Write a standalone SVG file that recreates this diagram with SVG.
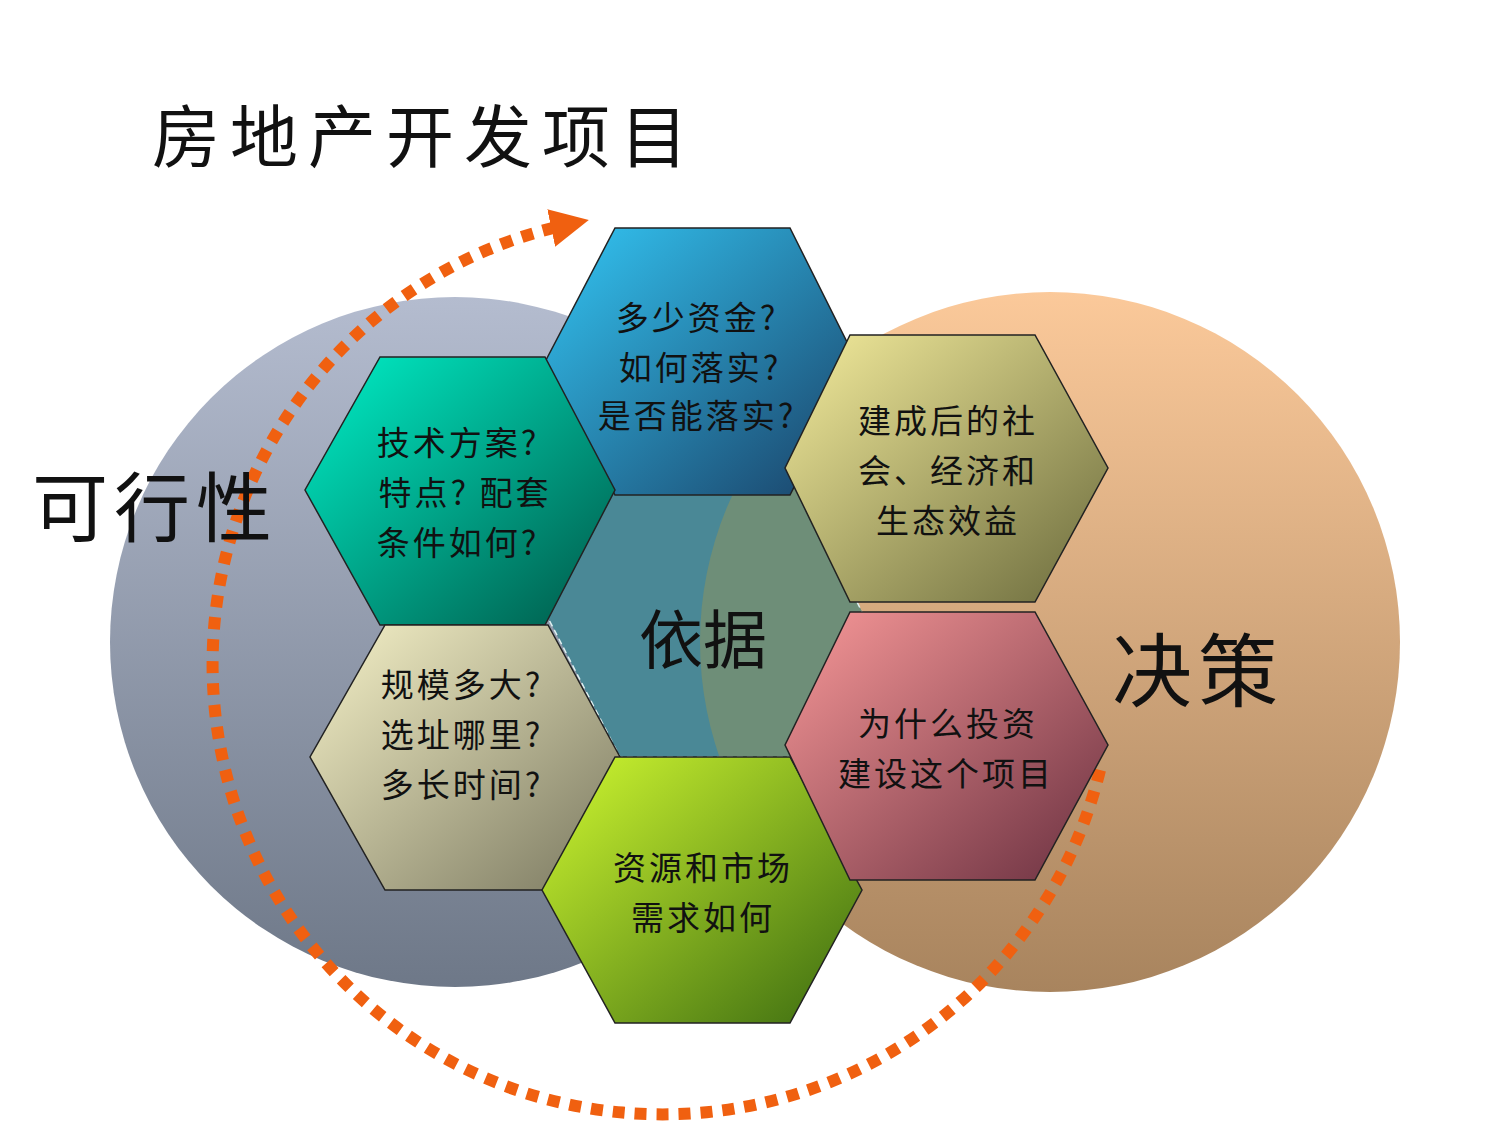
<svg xmlns="http://www.w3.org/2000/svg" width="1500" height="1125" viewBox="0 0 1500 1125">
<style>
text{font-family:"Noto Sans CJK SC","Noto Sans",sans-serif;fill:#111;text-anchor:middle}
.h{font-size:33px;letter-spacing:3px}
.hex{stroke:#222;stroke-width:1.5}
</style>
<defs>
<linearGradient id="gl" x1="0" y1="0" x2="0" y2="1"><stop offset="0" stop-color="#b4bccf"/><stop offset="1" stop-color="#6e7888"/></linearGradient>
<linearGradient id="gr" x1="0" y1="0" x2="0" y2="1"><stop offset="0" stop-color="#fbc99a"/><stop offset="1" stop-color="#a8845e"/></linearGradient>
<linearGradient id="g1" x1="0" y1="0" x2="1" y2="1"><stop offset="0" stop-color="#33c6f4"/><stop offset="1" stop-color="#1a4066"/></linearGradient>
<linearGradient id="g2" x1="0" y1="0" x2="1" y2="1"><stop offset="0" stop-color="#00f0c8"/><stop offset="1" stop-color="#005848"/></linearGradient>
<linearGradient id="g3" x1="0" y1="0" x2="1" y2="1"><stop offset="0" stop-color="#f6f2c8"/><stop offset="1" stop-color="#7a7860"/></linearGradient>
<linearGradient id="g4" x1="0" y1="0" x2="1" y2="1"><stop offset="0" stop-color="#d0f830"/><stop offset="1" stop-color="#3a6a10"/></linearGradient>
<linearGradient id="g5" x1="0" y1="0" x2="1" y2="1"><stop offset="0" stop-color="#f4ec9c"/><stop offset="1" stop-color="#6a6a3c"/></linearGradient>
<linearGradient id="g6" x1="0" y1="0" x2="1" y2="1"><stop offset="0" stop-color="#f89898"/><stop offset="1" stop-color="#6a3040"/></linearGradient>
<marker id="ar" viewBox="0 0 10 10" refX="5" refY="5" markerWidth="3.2" markerHeight="3.2" orient="auto"><path d="M0,0L10,5L0,10z" fill="#f06010"/></marker>
<clipPath id="cr"><circle cx="1050" cy="642" r="350"/></clipPath>
</defs>
<rect width="1500" height="1125" fill="#fff"/>
<text x="425" y="162" style="font-size:68px;letter-spacing:10px">房地产开发项目</text>
<g id="circles">
<circle cx="455" cy="642" r="345" fill="url(#gl)"/>
<circle cx="1050" cy="642" r="350" fill="url(#gr)"/>
</g>
<g id="connectors">
<path d="M1100,770 A450,450 0 1 1 570,224" fill="none" stroke="#f06010" stroke-width="12" stroke-dasharray="12 10" marker-end="url(#ar)"/>
</g>
<g id="center">
<polygon points="620,468 790,468 862,612 790,757 620,757 545,612" fill="#4a8896"/>
<polygon points="620,468 790,468 862,612 790,757 620,757 545,612" fill="#6e8e78" clip-path="url(#cr)"/>
<polygon points="620,468 790,468 862,612 790,757 620,757 545,612" fill="none" stroke="#e0f0f0" stroke-width="1.5" stroke-dasharray="6 4"/>
<text x="703" y="663" style="font-size:64px">依据</text>
</g>
<g id="hex-top"><polygon class="hex" points="615,228 790,228 857,362 790,495 615,495 545,362" fill="url(#g1)"/>
<text class="h" x="697" y="330">多少资金?</text><text class="h" x="700" y="380">如何落实?</text><text class="h" x="697" y="428">是否能落实?</text></g>
<g id="hex-ul"><polygon class="hex" points="380,357 545,357 615,490 545,625 380,625 305,490" fill="url(#g2)"/>
<text class="h" x="458" y="455">技术方案?</text><text class="h" x="465" y="505">特点? 配套</text><text class="h" x="458" y="555">条件如何?</text></g>
<g id="hex-ll"><polygon class="hex" points="385,625 548,625 620,757 548,890 385,890 310,757" fill="url(#g3)"/>
<text class="h" x="462" y="697">规模多大?</text><text class="h" x="462" y="747">选址哪里?</text><text class="h" x="462" y="797">多长时间?</text></g>
<g id="hex-bottom"><polygon class="hex" points="615,757 790,757 862,890 790,1023 615,1023 542,890" fill="url(#g4)"/>
<text class="h" x="703" y="880">资源和市场</text><text class="h" x="703" y="930">需求如何</text></g>
<g id="hex-ur"><polygon class="hex" points="850,335 1035,335 1108,468 1035,602 850,602 785,468" fill="url(#g5)"/>
<text class="h" x="948" y="433">建成后的社</text><text class="h" x="948" y="483">会、经济和</text><text class="h" x="948" y="533">生态效益</text></g>
<g id="hex-lr"><polygon class="hex" points="850,612 1035,612 1108,745 1035,880 850,880 785,745" fill="url(#g6)"/>
<text class="h" x="948" y="736">为什么投资</text><text class="h" x="946" y="786">建设这个项目</text></g>
<text x="155" y="536" style="font-size:76px;letter-spacing:6px">可行性</text>
<text x="1198" y="700" style="font-size:80px;letter-spacing:6px">决策</text>
</svg>
